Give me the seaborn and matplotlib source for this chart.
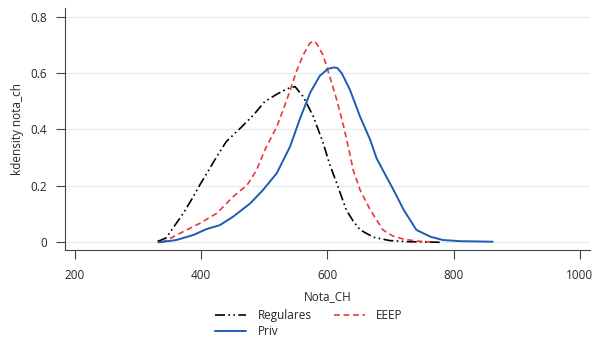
import numpy as np
import pandas as pd
import matplotlib
matplotlib.use("Agg")
import matplotlib.pyplot as plt
import seaborn as sns

# kernel density curves
reg_x = [331, 337, 345, 358, 372, 386, 398, 412, 425, 440, 462, 483, 501, 520, 537,
         549, 562, 570, 578, 593, 604, 615, 630, 641, 652, 673, 699, 728, 758, 778]
reg_y = [0.003, 0.008, 0.016, 0.058, 0.103, 0.155, 0.203, 0.255, 0.304, 0.357, 0.404,
         0.451, 0.499, 0.525, 0.545, 0.552, 0.516, 0.481, 0.445, 0.355, 0.275, 0.209,
         0.115, 0.075, 0.044, 0.018, 0.006, 0.002, 0.001, 0.0]

eeep_x = [337, 346, 372, 398, 425, 451, 473, 488, 501, 520, 531, 541, 551, 562, 572,
          578, 583, 593, 599, 615, 626, 636, 641, 652, 668, 688, 704, 721, 743, 763]
eeep_y = [0.0, 0.008, 0.038, 0.067, 0.103, 0.162, 0.203, 0.256, 0.327, 0.410, 0.475,
          0.538, 0.605, 0.665, 0.705, 0.714, 0.705, 0.665, 0.623, 0.505, 0.410, 0.310,
          0.256, 0.185, 0.115, 0.044, 0.022, 0.011, 0.004, 0.001]

priv_x = [333, 341, 361, 388, 409, 430, 451, 478, 498, 520, 541, 557, 573, 588, 601,
          610, 616, 623, 636, 652, 668, 678, 688, 705, 721, 741, 763, 783, 810, 862]
priv_y = [0.0, 0.002, 0.008, 0.026, 0.047, 0.061, 0.091, 0.138, 0.185, 0.245, 0.339,
          0.440, 0.531, 0.590, 0.615, 0.620, 0.618, 0.599, 0.540, 0.445, 0.363, 0.298,
          0.256, 0.185, 0.115, 0.044, 0.020, 0.008, 0.004, 0.002]

xticks = [200, 400, 600, 800, 1000]
yticks = [0, 0.2, 0.4, 0.6, 0.8]
ytick_labels = ["0", "0.2", "0.4", "0.6", "0.8"]

sns.set_style("white")
plt.rcParams['font.family'] = ['Open Sans', 'DejaVu Sans']

fig = plt.figure(figsize=(5.94, 3.38), dpi=100)
ax = fig.add_axes([0.109, 0.259, 0.884, 0.7175])

for y in yticks:
    ax.axhline(y, color='#e3edef', lw=0.9, zorder=0)

sns.lineplot(x=reg_x, y=reg_y, ax=ax, color='black', lw=1.2, sort=False,
             estimator=None, label='Regulares', linestyle=(0, (6, 2, 1, 2, 1, 2)))
sns.lineplot(x=eeep_x, y=eeep_y, ax=ax, color='#e8383d', lw=1.2, sort=False,
             estimator=None, label='EEEP', linestyle=(0, (3.5, 2.2)))
sns.lineplot(x=priv_x, y=priv_y, ax=ax, color='#1f5bb0', lw=1.4, sort=False,
             estimator=None, label='Priv')

ax.set_xlim(184.2, 1015.8)
ax.set_ylim(-0.029, 0.831)
ax.set_xticks(xticks)
ax.set_yticks(yticks)
ax.set_yticklabels(ytick_labels)
ax.tick_params(axis='both', direction='out', length=6.5, width=0.8,
               color='#444444', labelsize=8.5, left=True, bottom=True)
ax.tick_params(axis='x', pad=7)
ax.tick_params(axis='y', pad=6)
for side in ['top', 'right']:
    ax.spines[side].set_visible(False)
for side in ['left', 'bottom']:
    ax.spines[side].set_color('#444444')
    ax.spines[side].set_linewidth(0.8)

ax.set_xlabel('Nota_CH', fontsize=8.5, labelpad=6)
ax.set_ylabel('kdensity nota_ch', fontsize=8.5, labelpad=5)

handles, labels = ax.get_legend_handles_labels()
order = [0, 2, 1]
ax.legend([handles[i] for i in order], [labels[i] for i in order], ncol=2,
          frameon=False, fontsize=8.5, loc='center', bbox_to_anchor=(0.52, 0.043),
          bbox_transform=fig.transFigure, handlelength=2.6, columnspacing=1.9,
          labelspacing=0.25, handletextpad=1.0)

fig.savefig('out.png', dpi=100)
